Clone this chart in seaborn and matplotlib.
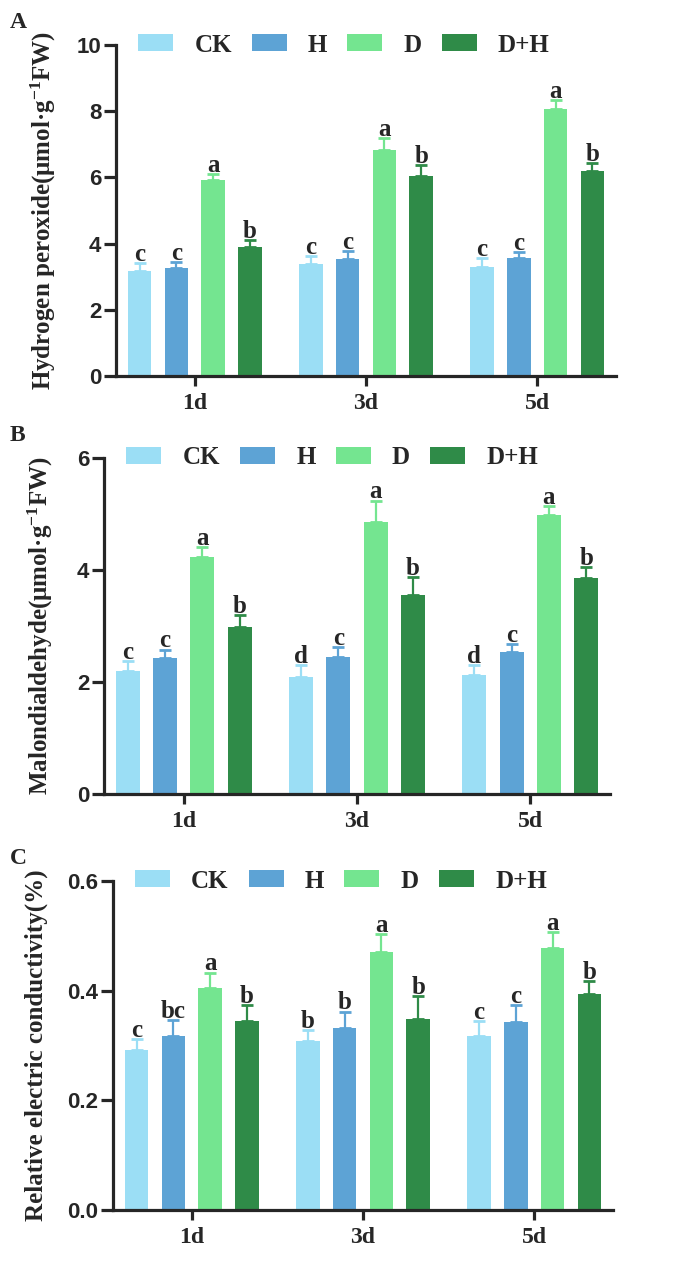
import pandas as pd
import matplotlib
matplotlib.use('Agg')
import matplotlib.pyplot as plt
import seaborn as sns

days = ['1d', '3d', '5d']
treatments = ['CK', 'H', 'D', 'D+H']
colors = ['#9BDEF5', '#5DA3D5', '#74E590', '#2F8B48']

# hydrogen peroxide, rows = treatments, cols = days
h2o2_mean = [[3.18, 3.37, 3.30], [3.25, 3.52, 3.58], [5.92, 6.83, 8.07], [3.89, 6.05, 6.20]]
h2o2_err = [[0.22, 0.26, 0.25], [0.20, 0.26, 0.16], [0.18, 0.35, 0.27], [0.22, 0.32, 0.22]]
h2o2_sig = [['c', 'c', 'c'], ['c', 'c', 'c'], ['a', 'a', 'a'], ['b', 'b', 'b']]

# malondialdehyde
mda_mean = [[2.20, 2.09, 2.13], [2.43, 2.44, 2.53], [4.23, 4.85, 4.98], [2.99, 3.56, 3.86]]
mda_err = [[0.18, 0.22, 0.18], [0.15, 0.18, 0.15], [0.18, 0.39, 0.17], [0.20, 0.31, 0.19]]
mda_sig = [['c', 'd', 'd'], ['c', 'c', 'c'], ['a', 'a', 'a'], ['b', 'b', 'b']]

# relative electric conductivity
rec_mean = [[0.292, 0.309, 0.318], [0.318, 0.332, 0.342], [0.405, 0.471, 0.478], [0.345, 0.349, 0.394]]
rec_err = [[0.020, 0.020, 0.027], [0.028, 0.030, 0.031], [0.028, 0.033, 0.029], [0.028, 0.042, 0.023]]
rec_sig = [['c', 'b', 'c'], ['bc', 'b', 'c'], ['a', 'a', 'a'], ['b', 'b', 'b']]

sns.set_style('ticks')
plt.rcParams['font.family'] = ['Liberation Serif', 'DejaVu Serif']
plt.rcParams['mathtext.fontset'] = 'custom'
plt.rcParams['mathtext.rm'] = 'Liberation Serif:bold'
plt.rcParams['mathtext.it'] = 'Liberation Serif:bold'
plt.rcParams['mathtext.bf'] = 'Liberation Serif:bold'

W, H = 685, 1278
fig = plt.figure(figsize=(W / 100, H / 100), dpi=100)


def to_df(mean):
    rows = []
    for t, vals in zip(treatments, mean):
        for d, v in zip(days, vals):
            rows.append({'day': d, 'treatment': t, 'value': v})
    return pd.DataFrame(rows)


def panel(box, mean, err, sig, ylim, yticks, ytick_labels, ylabel, label_x, letter):
    left, right, top, bottom = box
    ax = fig.add_axes([left / W, 1 - bottom / H, (right - left) / W, (bottom - top) / H])
    sns.barplot(data=to_df(mean), x='day', y='value', hue='treatment',
                hue_order=treatments, palette=colors, saturation=1,
                width=0.86, gap=0.36, errorbar=None, linewidth=0, ax=ax)
    bars = list(ax.containers)
    for i, cont in enumerate(bars):
        xs = [p.get_x() + p.get_width() / 2 for p in cont.patches]
        ax.errorbar(xs, mean[i], yerr=[[0] * len(xs), err[i]], fmt='none',
                    ecolor=colors[i], elinewidth=1.6, capsize=4, capthick=2)
        for x, m, e, s in zip(xs, mean[i], err[i], sig[i]):
            ax.annotate(s, (x, m + e), xytext=(0, 1.5), textcoords='offset points',
                        ha='center', va='baseline', fontsize=18, fontweight='bold')
    ax.set_xlim(-0.46, 2.46)
    ax.set_ylim(*ylim)
    ax.set_yticks(yticks)
    ax.set_yticklabels(ytick_labels, fontfamily='Liberation Sans', fontweight='bold')
    ax.set_xlabel('')
    ax.set_ylabel(ylabel, fontsize=18, fontweight='bold')
    ax.yaxis.set_label_coords((label_x - left) / (right - left), 0.5)
    sns.despine(ax=ax)
    for s in ['left', 'bottom']:
        ax.spines[s].set_linewidth(2.3)
    ax.tick_params(axis='y', length=8.5, width=2.3, pad=2, labelsize=16)
    ax.tick_params(axis='x', length=7.5, width=2.3, pad=5, labelsize=17)
    for t in ax.get_xticklabels():
        t.set_fontweight('bold')
    handles, labels = ax.get_legend_handles_labels()
    ax.legend(handles, labels, loc='center left', bbox_to_anchor=(0.044, 1.0),
              ncol=4, frameon=False, borderpad=0, borderaxespad=0,
              handlelength=1.4, handleheight=0.68, handletextpad=0.85,
              columnspacing=0.8, prop={'size': 18, 'weight': 'bold'})
    fig.text(10 / W, 1 - (top - 33) / H, letter,
             fontsize=17, fontweight='bold', va='top', ha='left')
    return ax


panel((116, 616, 45, 376), h2o2_mean, h2o2_err, h2o2_sig, (0, 10), [0, 2, 4, 6, 8, 10],
      ['0', '2', '4', '6', '8', '10'], r'Hydrogen peroxide(μmol·g$^{-1}$FW)', 58, 'A')
panel((104, 610, 458, 794), mda_mean, mda_err, mda_sig, (0, 6), [0, 2, 4, 6],
      ['0', '2', '4', '6'], r'Malondialdehyde(μmol·g$^{-1}$FW)', 55, 'B')
panel((113, 613, 881, 1210), rec_mean, rec_err, rec_sig, (0, 0.6), [0.0, 0.2, 0.4, 0.6],
      ['0.0', '0.2', '0.4', '0.6'], 'Relative electric conductivity(%)', 48, 'C')

fig.savefig('out.png', dpi=100)
